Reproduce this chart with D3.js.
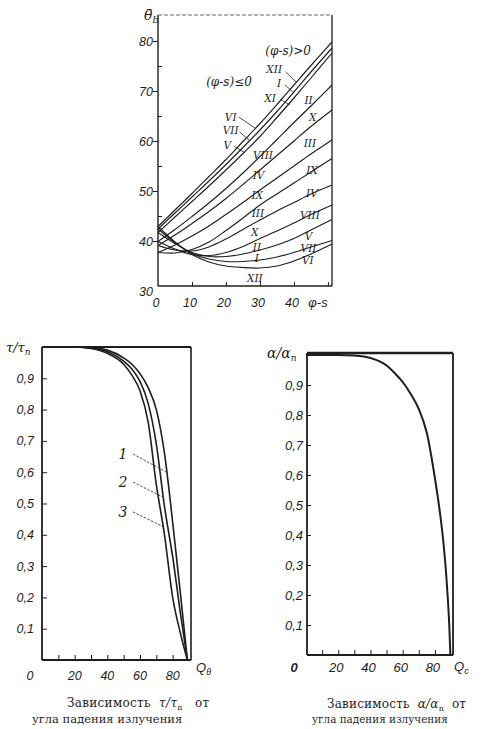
<!DOCTYPE html>
<html>
<head>
<meta charset="utf-8">
<script src="https://cdn.jsdelivr.net/npm/d3@7"></script>
<style>
body{margin:0;background:#fff}
svg{display:block}
text{white-space:pre}
</style>
</head>
<body>
<svg id="chart" width="487" height="729"></svg>
<script>
// ---- top chart: mean angle vs (φ-s), one line per month pair ----
const phiS = [0, 5, 10, 15, 20, 25, 30, 35, 40, 45, 51.2]
const leftMonths  = ['VI', 'VII', 'V', 'VIII', 'IV', 'IX', 'III', 'X', 'II', 'XI', 'I', 'XII']
const rightMonths = ['XII', 'I', 'XI', 'II', 'X', 'III', 'IX', 'IV', 'VIII', 'V', 'VII', 'VI']
const thetaVI_XII   = [42.9, 46.2, 49.5, 52.9, 56.3, 59.9, 63.5, 67.3, 71.2, 75.1, 79.8]
const thetaVII_I    = [42.4, 45.6, 48.8, 52.0, 55.3, 58.7, 62.2, 65.9, 69.8, 73.8, 78.6]
const thetaV_XI     = [41.7, 44.8, 47.9, 51.0, 54.2, 57.5, 60.9, 64.7, 68.6, 72.6, 77.6]
const thetaVIII_II  = [39.9, 42.3, 44.9, 47.6, 50.5, 53.6, 56.9, 60.3, 63.7, 67.0, 71.2]
const thetaIV_X     = [39.1, 41.2, 43.5, 45.9, 48.5, 51.3, 54.2, 57.1, 60.0, 62.9, 66.2]
const thetaIX_III   = [37.7, 39.2, 41.0, 43.0, 45.3, 47.7, 50.2, 52.6, 55.0, 57.4, 60.2]
const thetaIII_IX   = [37.7, 37.6, 38.3, 39.8, 42.1, 44.6, 47.2, 49.4, 51.6, 53.8, 56.5]
const thetaX_IV     = [39.1, 38.2, 38.0, 38.8, 40.4, 42.3, 44.2, 46.0, 47.7, 49.4, 51.2]
const thetaII_VIII  = [39.9, 38.4, 37.3, 37.1, 37.7, 38.9, 40.5, 42.0, 43.6, 45.3, 47.2]
const thetaXI_V     = [41.7, 39.5, 37.7, 36.9, 36.9, 37.4, 38.2, 39.2, 40.5, 42.2, 44.3]
const thetaI_VII    = [42.4, 39.7, 37.5, 36.4, 35.9, 35.9, 36.2, 36.8, 37.7, 38.8, 40.1]
const thetaXII_VI   = [42.9, 39.8, 37.3, 35.8, 35.0, 34.7, 34.6, 35.0, 36.0, 37.4, 39.4]
const topTicksY = [30, 40, 50, 60, 70, 80]
const topTicksX = [0, 10, 20, 30, 40]

// ---- bottom charts: ratio vs incidence angle ----
const angleTau = [0, 20, 30, 40, 50, 55, 60, 65, 70, 75, 80, 85, 89]
const tau1 = [1, 1, 0.998, 0.99, 0.965, 0.945, 0.915, 0.87, 0.80, 0.66, 0.44, 0.20, 0]
const tau2 = [1, 1, 0.997, 0.985, 0.955, 0.93, 0.89, 0.82, 0.69, 0.49, 0.33, 0.14, 0]
const tau3 = [1, 1, 0.995, 0.98, 0.945, 0.91, 0.86, 0.76, 0.56, 0.40, 0.20, 0.08, 0]
const angleAlpha = [0, 20, 30, 40, 50, 55, 60, 65, 70, 75, 80, 83, 85, 87, 88, 89, 89.6]
const alphaRatio = [1, 1, 0.998, 0.99, 0.965, 0.94, 0.91, 0.87, 0.82, 0.74, 0.59, 0.48, 0.39, 0.27, 0.19, 0.09, 0]
const ratioTicks = [0.1, 0.2, 0.3, 0.4, 0.5, 0.6, 0.7, 0.8, 0.9]
const angleTicks = [10, 20, 30, 40, 50, 60, 70, 80]
const angleLabels = [20, 40, 60, 80]

const svg = d3.select('#chart')
const ink = '#1e1e1e'
const numFont = '"Liberation Sans", Arial, sans-serif'
const serif = '"DejaVu Serif", "Liberation Serif", serif'
const comma = d => d3.format('.1f')(d).replace('.', ',')

const seg = (g, x1, y1, x2, y2, w) => g.append('line')
    .attr('x1', x1).attr('y1', y1).attr('x2', x2).attr('y2', y2)
    .attr('stroke', ink).attr('stroke-width', w || 1.3)

const label = (g, txt, x, y, size, anchor, fam) => g.append('text')
    .attr('x', x).attr('y', y)
    .attr('font-family', fam || numFont)
    .attr('font-style', 'italic')
    .attr('font-size', size)
    .attr('text-anchor', anchor || 'middle')
    .attr('fill', ink)
    .text(txt)

// ================= top chart =================
const xTop = d3.scaleLinear().domain([0, 51.2]).range([158, 332])
const yTop = d3.scaleLinear().domain([30, 80]).range([291, 41])
const topG = svg.append('g')
const topEdge = 15, topBase = 286

seg(topG, 158, topEdge, 158, topBase, 1.4)
seg(topG, 158, topBase, 332, topBase, 1.4)
seg(topG, 332, topEdge, 332, topBase, 1.3)
seg(topG, 158, topEdge, 332, topEdge, 0.9).attr('stroke-dasharray', '4,2').attr('stroke', '#555')

// major ticks outward, minor ticks inward
topG.append('g').attr('transform', 'translate(158,0)')
    .call(d3.axisLeft(yTop).tickValues(topTicksY.slice(1)).tickSize(5).tickFormat(''))
    .call(g => g.select('.domain').remove())
topG.append('g').attr('transform', 'translate(158,0)')
    .call(d3.axisRight(yTop).tickValues([45, 55, 65, 75]).tickSize(4).tickFormat(''))
    .call(g => g.select('.domain').remove())
topG.append('g').attr('transform', `translate(0,${topBase})`)
    .call(d3.axisTop(xTop).tickValues([10, 20, 30, 40, 50]).tickSize(4).tickFormat(''))
    .call(g => g.select('.domain').remove())
topG.selectAll('.tick line').attr('stroke', ink).attr('stroke-width', 1)

topTicksY.forEach(v => label(topG, v, 153, yTop(v) + 4.5, 12.5, 'end'))
topTicksX.forEach(v => label(topG, v, xTop(v) - 2, 307, 12.5))
label(topG, 'φ-s', 318, 307, 13)
const thLab = label(topG, 'θ̄', 144, 20, 14, 'start', serif)
thLab.append('tspan').attr('dy', 3).attr('font-size', 10).text('b')

const thetaSeries = [thetaVI_XII, thetaVII_I, thetaV_XI, thetaVIII_II, thetaIV_X, thetaIX_III,
    thetaIII_IX, thetaX_IV, thetaII_VIII, thetaXI_V, thetaI_VII, thetaXII_VI]
const lineTop = d3.line()
    .x((d, i) => xTop(phiS[i]))
    .y(d => yTop(d))
    .curve(d3.curveCatmullRom.alpha(0.5))
topG.selectAll('path.month')
    .data(thetaSeries)
    .join('path')
    .attr('class', 'month')
    .attr('d', lineTop)
    .attr('fill', 'none')
    .attr('stroke', ink)
    .attr('stroke-width', 1.15)

// month labels: (φ-s) value at label, θ value at label baseline
const rightLabelPos = [[34.2, 73.6], [35.6, 70.8], [33.0, 67.9], [44.3, 67.4], [45.5, 64.0], [44.7, 58.8],
    [45.3, 53.4], [45.3, 48.8], [44.7, 44.4], [44.3, 40.2], [44.3, 37.8], [44.1, 35.4]]
const leftLabelPos = [[21.4, 64.1], [21.4, 61.4], [20.4, 58.4], [30.9, 56.4], [29.6, 52.4], [29.2, 48.4],
    [29.4, 44.8], [28.5, 41.0], [29.1, 38.0], null, [29.1, 35.8], [28.5, 31.8]]
const pointers = [
    [[37.6, 73.8], [40.9, 71.6]], [[37.4, 71.2], [39.7, 69.8]], [[36.0, 68.3], [38.8, 67.2]],
    [[23.8, 64.8], [28.5, 62.6]], [[24.0, 61.8], [27.1, 60.0]], [[22.4, 59.0], [25.6, 57.6]]]
rightMonths.forEach((m, i) => label(topG, m, xTop(rightLabelPos[i][0]), yTop(rightLabelPos[i][1]), 10.5, 'middle', serif))
leftMonths.forEach((m, i) => {
    if (leftLabelPos[i]) label(topG, m, xTop(leftLabelPos[i][0]), yTop(leftLabelPos[i][1]), 10.5, 'middle', serif)
})
pointers.forEach(p => seg(topG, xTop(p[0][0]), yTop(p[0][1]), xTop(p[1][0]), yTop(p[1][1]), 0.8))
label(topG, '(φ-s)>0', xTop(38.3), yTop(77.3), 12, 'middle', serif)
label(topG, '(φ-s)≤0', xTop(20.9), yTop(71.0), 12, 'middle', serif)

// ================= bottom-left chart =================
const xL = d3.scaleLinear().domain([0, 90]).range([42, 189])
const yL = d3.scaleLinear().domain([0, 1]).range([660, 347])
const leftG = svg.append('g')
seg(leftG, 42, 347, 42, 660, 1.8)
seg(leftG, 42, 660, 191, 660, 1.8)
seg(leftG, 191, 347, 191, 660, 1.6)
seg(leftG, 42, 347, 191, 347, 2.2)

leftG.append('g').attr('transform', 'translate(42,0)')
    .call(d3.axisRight(yL).tickValues(ratioTicks).tickSize(5).tickFormat(''))
    .call(g => g.select('.domain').remove())
leftG.append('g').attr('transform', 'translate(0,660)')
    .call(d3.axisTop(xL).tickValues(angleTicks).tickSize(5).tickFormat(''))
    .call(g => g.select('.domain').remove())
leftG.selectAll('.tick line').attr('stroke', ink).attr('stroke-width', 1)

ratioTicks.forEach(v => label(leftG, comma(v), 34, yL(v) + 4.5, 12.5, 'end'))
label(leftG, '0', 30, 680, 12.5)
angleLabels.forEach(v => label(leftG, v, xL(v), 680, 12.5))
const qL = label(leftG, 'Q', 196, 672, 13, 'start')
qL.append('tspan').attr('dy', 3).attr('font-size', 9).text('θ')
const tauLab = label(leftG, 'τ/τ', 6, 352, 13, 'start', serif)
tauLab.append('tspan').attr('dy', 3).attr('font-size', 9).text('n')

const tauSeries = [tau1, tau2, tau3]
const lineL = d3.line()
    .x((d, i) => xL(angleTau[i]))
    .y(d => yL(d))
    .curve(d3.curveMonotoneX)
leftG.selectAll('path.tau')
    .data(tauSeries)
    .join('path')
    .attr('class', 'tau')
    .attr('d', lineL)
    .attr('fill', 'none')
    .attr('stroke', ink)
    .attr('stroke-width', 1.6)

// curve numbers with dashed leaders
const tauNames = ['1', '2', '3']
const tauLeaderEnd = [[76.2, 0.6], [74.3, 0.52], [74.6, 0.425]]
const tauLabelY = [0.655, 0.565, 0.47]
tauNames.forEach((n, i) => {
    label(leftG, n, 123, yL(tauLabelY[i]) + 4, 14, 'middle', serif)
    seg(leftG, 133, yL(tauLabelY[i]) - 1, xL(tauLeaderEnd[i][0]), yL(tauLeaderEnd[i][1]), 0.8)
        .attr('stroke-dasharray', '2.5,1.5')
})

// ================= bottom-right chart =================
const xR = d3.scaleLinear().domain([0, 90]).range([306, 451])
const yR = d3.scaleLinear().domain([0, 1]).range([655, 355])
const rightG = svg.append('g')
seg(rightG, 307, 353, 307, 655, 1.8)
seg(rightG, 307, 655, 453, 655, 1.8)
seg(rightG, 453, 353, 453, 655, 1.8)
seg(rightG, 307, 353, 453, 353, 2.4)

rightG.append('g').attr('transform', 'translate(307,0)')
    .call(d3.axisRight(yR).tickValues(ratioTicks).tickSize(4).tickFormat(''))
    .call(g => g.select('.domain').remove())
rightG.append('g').attr('transform', 'translate(0,655)')
    .call(d3.axisTop(xR).tickValues(angleTicks).tickSize(5).tickFormat(''))
    .call(g => g.select('.domain').remove())
rightG.selectAll('.tick line').attr('stroke', ink).attr('stroke-width', 1)

ratioTicks.forEach(v => label(rightG, comma(v), 303, yR(v) + 4.5, 13, 'end'))
label(rightG, '0', 294, 672, 13).attr('font-weight', 'bold')
angleLabels.forEach(v => label(rightG, v, xR(v) - 2, 672, 13))
const qR = label(rightG, 'Q', 454, 671, 13, 'start')
qR.append('tspan').attr('dy', 3).attr('font-size', 9).text('c')
const alLab = label(rightG, 'α/α', 267, 358, 14, 'start', serif)
alLab.append('tspan').attr('dy', 3).attr('font-size', 9).text('n')

const lineR = d3.line()
    .x((d, i) => xR(angleAlpha[i]))
    .y(d => yR(d))
    .curve(d3.curveMonotoneX)
rightG.append('path')
    .datum(alphaRatio)
    .attr('d', lineR)
    .attr('fill', 'none')
    .attr('stroke', ink)
    .attr('stroke-width', 2)

// ================= captions =================
const caption = (x, y, size, spacing, head, sym, tail) => {
    const t = svg.append('text')
        .attr('x', x).attr('y', y)
        .attr('font-family', serif)
        .attr('font-size', size)
        .attr('letter-spacing', spacing)
        .attr('fill', ink)
    t.append('tspan').text(head)
    t.append('tspan').attr('font-style', 'italic').text(sym)
    t.append('tspan').attr('dy', 2.5).attr('font-size', size * 0.65).text('n')
    t.append('tspan').attr('dy', -2.5).text(tail)
    return t
}
const captionLine = (txt, x, y, size, spacing) => svg.append('text')
    .attr('x', x).attr('y', y)
    .attr('font-family', serif)
    .attr('font-size', size)
    .attr('letter-spacing', spacing)
    .attr('fill', ink)
    .text(txt)

caption(67, 707, 12, 0.3, 'Зависимость  ', 'τ/τ', '   от')
captionLine('угла падения излучения', 32, 723, 11.5, 0)
caption(327, 708, 12, 0.2, 'Зависимость  ', 'α/α', '  от')
captionLine('угла падения излучения', 312, 723, 10.4, 0)
</script>
</body>
</html>
